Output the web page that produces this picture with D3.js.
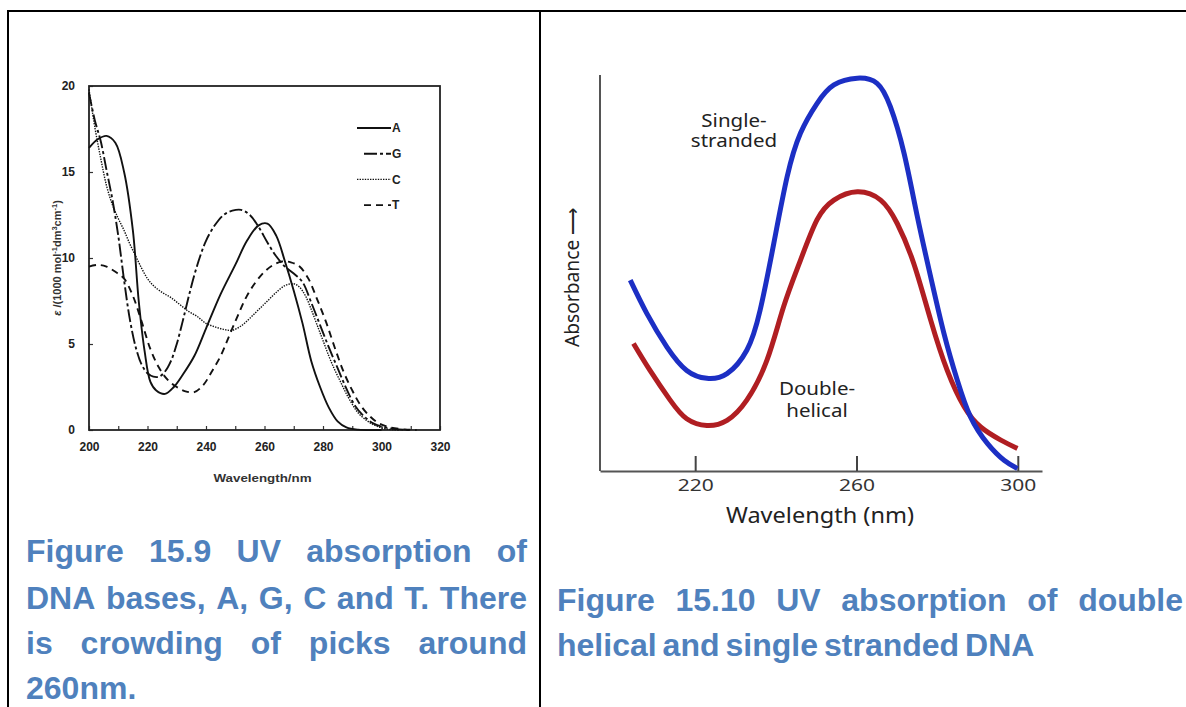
<!DOCTYPE html>
<html>
<head>
<meta charset="utf-8">
<script src="https://cdn.jsdelivr.net/npm/d3@7"></script>
<style>
  body { margin: 0; background: #fff; }
  svg { display: block; }
</style>
</head>
<body>
<script>
// ---- left figure: absorption of the four bases (epsilon vs wavelength)
const wlA  = [200,203,206,209,212,215,217,219,221,223,226,229,232,236,240,245,250,254,258,261,264,267,270,273,276,279,282,285,288,292,300];
const epsA = [16.4,16.9,17.1,16.7,15.0,11.6,7.5,4.6,2.8,2.3,2.1,2.5,3.2,4.3,5.9,7.9,9.6,11.0,11.9,12.0,11.3,9.8,8.1,6.2,4.0,2.5,1.3,0.5,0.15,0.02,0];

const wlG  = [200,202,204,206,208,210,212,214,216,218,220,222,224,226,228,230,232,234,236,238,240,243,246,249,252,255,258,261,264,267,270,273,276,279,282,285,288,291,294,297,300,305,310];
const epsG = [19.6,18.0,16.8,15.1,13.4,11.3,8.7,6.4,4.8,3.8,3.3,3.1,3.1,3.4,4.0,5.0,6.3,7.7,9.0,10.1,11.0,11.9,12.5,12.75,12.8,12.5,11.8,10.9,10.1,9.5,9.1,8.6,7.4,6.1,4.8,3.6,2.4,1.4,0.8,0.4,0.2,0.05,0];

const wlC  = [200,202,204,206,208,210,212,214,216,218,220,222,225,228,231,234,237,240,243,246,249,252,255,258,261,264,267,270,272,274,276,278,280,282,284,286,288,290,292,295,298,302,306];
const epsC = [19.8,17.6,15.8,14.2,13.1,12.3,11.6,10.8,10.1,9.4,8.8,8.4,8.0,7.7,7.3,6.9,6.6,6.2,6.0,5.85,5.8,6.05,6.5,7.0,7.5,8.0,8.4,8.5,8.3,7.8,7.0,6.1,5.2,4.3,3.5,2.8,2.1,1.5,1.0,0.55,0.25,0.05,0];

const wlT  = [200,203,206,209,212,215,218,221,224,227,230,233,236,239,242,245,248,251,254,257,260,263,266,269,272,275,278,281,284,287,290,293,296,299,303,308,312];
const epsT = [9.5,9.6,9.5,9.2,8.8,7.8,6.3,4.7,3.6,2.9,2.5,2.25,2.2,2.6,3.4,4.3,5.5,6.7,7.8,8.6,9.2,9.6,9.8,9.75,9.5,8.8,7.6,6.3,4.8,3.4,2.3,1.4,0.8,0.4,0.15,0.03,0];

const baseNames = ["A", "G", "C", "T"];
const leftXTicks = [200, 210, 220, 230, 240, 250, 260, 270, 280, 290, 300, 310, 320];
const leftYTicks = [0, 5, 10, 15, 20];

// ---- right figure: single-stranded vs double-helical (relative absorbance)
const wlSingle  = [203.9,208.0,213.0,217.9,222.9,227.9,232.8,236.1,239.5,242.8,246.1,250.2,254.4,260.2,265.1,268.4,271.8,275.1,278.4,281.7,285.0,288.3,292.5,296.6,299.9];
const absSingle = [0.482,0.398,0.313,0.254,0.234,0.246,0.305,0.406,0.575,0.743,0.853,0.928,0.975,0.992,0.979,0.920,0.802,0.642,0.490,0.347,0.229,0.136,0.069,0.027,0.006];

const wlDouble  = [204.7,208.8,213.8,217.9,222.9,227.9,232.8,237.8,241.9,246.1,250.2,254.4,260.2,266.0,270.1,274.2,278.4,282.5,286.7,290.8,295.8,299.9];
const absDouble = [0.322,0.254,0.179,0.132,0.115,0.128,0.179,0.280,0.414,0.532,0.634,0.684,0.705,0.684,0.625,0.524,0.381,0.254,0.162,0.111,0.078,0.057];

const rightXTicks = [220, 260, 300];

// ---- captions
const captionLeft = [
  "Figure 15.9 UV absorption of",
  "DNA bases, A, G, C and T. There",
  "is crowding of picks around",
  "260nm."
];
const captionRight = [
  "Figure 15.10 UV absorption of double",
  "helical and single stranded DNA"
];

const width = 1186;
const height = 707;

const svg = d3.select("body").append("svg")
  .attr("width", width)
  .attr("height", height);

// table borders
svg.append("path")
  .attr("d", `M8,707 V11 H1186 M540,11 V707`)
  .attr("fill", "none")
  .attr("stroke", "#000")
  .attr("stroke-width", 2);

// ================= left chart =================
const xL = d3.scaleLinear().domain([200, 320]).range([89, 440]);
const yL = d3.scaleLinear().domain([0, 20]).range([430, 86]);

const left = svg.append("g")
  .attr("font-family", "'Liberation Sans', Arial, sans-serif")
  .attr("font-weight", "bold");

left.append("g")
  .attr("transform", `translate(0,${yL(0)})`)
  .call(d3.axisBottom(xL).tickValues(leftXTicks).tickSize(-4).tickPadding(12)
    .tickFormat(d => d % 20 === 0 ? d : ""))
  .call(g => g.select(".domain").remove())
  .call(g => g.selectAll("line").attr("stroke", "#333").attr("stroke-width", 1.2))
  .call(g => g.selectAll("text").attr("font-size", 12).attr("fill", "#222"));

left.append("g")
  .attr("transform", `translate(${xL(200)},0)`)
  .call(d3.axisLeft(yL).tickValues(leftYTicks).tickSize(-4).tickPadding(14))
  .call(g => g.select(".domain").remove())
  .call(g => g.selectAll("line").attr("stroke", "#333").attr("stroke-width", 1.2))
  .call(g => g.selectAll("text").attr("font-size", 12).attr("fill", "#222"));

left.append("rect")
  .attr("x", xL(200)).attr("y", yL(20))
  .attr("width", xL(320) - xL(200)).attr("height", yL(0) - yL(20))
  .attr("fill", "none").attr("stroke", "#222").attr("stroke-width", 1.8);

const lineL = d3.line().x(d => xL(d[0])).y(d => yL(d[1])).curve(d3.curveCatmullRom.alpha(0.5));

const styles = {
  A: { dash: null, w: 1.9 },
  G: { dash: "13,3,3,3", w: 1.9 },
  C: { dash: "1.4,1.2", w: 1.4 },
  T: { dash: "7,5", w: 1.9 }
};
const baseSeries = {
  A: d3.zip(wlA, epsA),
  G: d3.zip(wlG, epsG),
  C: d3.zip(wlC, epsC),
  T: d3.zip(wlT, epsT)
};

left.append("g").selectAll("path")
  .data(baseNames)
  .join("path")
  .attr("d", k => lineL(baseSeries[k]))
  .attr("fill", "none")
  .attr("stroke", "#111")
  .attr("stroke-width", k => styles[k].w)
  .attr("stroke-dasharray", k => styles[k].dash);

// legend
const legend = left.append("g").selectAll("g")
  .data(baseNames)
  .join("g")
  .attr("transform", (d, i) => `translate(0,${128 + i * 25.7})`);
legend.append("line")
  .attr("x1", d => d === "A" || d === "C" ? 357 : 364).attr("x2", 391)
  .attr("stroke", "#111")
  .attr("stroke-width", d => styles[d].w)
  .attr("stroke-dasharray", d => styles[d].dash);
legend.append("text")
  .attr("x", 392).attr("dy", "0.36em")
  .attr("font-size", 12).attr("fill", "#222")
  .text(d => d);

left.append("text")
  .attr("x", (xL(200) + xL(320)) / 2 - 2).attr("y", 482)
  .attr("text-anchor", "middle")
  .attr("font-size", 11.5).attr("fill", "#333")
  .attr("textLength", 98).attr("lengthAdjust", "spacingAndGlyphs")
  .text("Wavelength/nm");

const yLab = left.append("text")
  .attr("transform", `translate(61,${(yL(0) + yL(20)) / 2}) rotate(-90)`)
  .attr("text-anchor", "middle")
  .attr("font-size", 11).attr("fill", "#333");
yLab.append("tspan").attr("font-style", "italic").text("ε");
yLab.append("tspan").text(" /(1000 mol");
yLab.append("tspan").attr("dy", -4).attr("font-size", 7.5).text("-1");
yLab.append("tspan").attr("dy", 4).text("dm");
yLab.append("tspan").attr("dy", -4).attr("font-size", 7.5).text("3");
yLab.append("tspan").attr("dy", 4).text("cm");
yLab.append("tspan").attr("dy", -4).attr("font-size", 7.5).text("-1");
yLab.append("tspan").attr("dy", 4).text(")");

// ================= right chart =================
const xR = d3.scaleLinear().domain([196.4, 306]).range([600, 1042]);
const yR = d3.scaleLinear().domain([0, 1]).range([471, 75]);

const right = svg.append("g").attr("font-family", "'Noto Sans', 'Open Sans', sans-serif");

right.append("g")
  .attr("transform", `translate(0,${yR(0)})`)
  .call(d3.axisBottom(xR).tickValues(rightXTicks).tickSizeInner(-15).tickSizeOuter(0).tickPadding(9))
  .call(g => g.select(".domain").attr("stroke", "#555").attr("stroke-width", 2))
  .call(g => g.selectAll(".tick line").attr("stroke", "#444").attr("stroke-width", 2))
  .call(g => g.selectAll("text")
    .attr("font-size", 16).attr("fill", "#333")
    .attr("font-family", "'Noto Sans', sans-serif")
    .attr("textLength", 36).attr("lengthAdjust", "spacingAndGlyphs"));

right.append("line")
  .attr("x1", xR.range()[0]).attr("x2", xR.range()[0])
  .attr("y1", yR(0)).attr("y2", yR(1))
  .attr("stroke", "#555").attr("stroke-width", 2);

const lineR = d3.line().x(d => xR(d[0])).y(d => yR(d[1])).curve(d3.curveNatural);

right.append("path")
  .attr("d", lineR(d3.zip(wlDouble, absDouble)))
  .attr("fill", "none").attr("stroke", "#b01e22").attr("stroke-width", 5);
right.append("path")
  .attr("d", lineR(d3.zip(wlSingle, absSingle)))
  .attr("fill", "none").attr("stroke", "#1c2fc4").attr("stroke-width", 5);

right.append("text")
  .attr("x", 820).attr("y", 523)
  .attr("text-anchor", "middle")
  .attr("font-size", 22).attr("fill", "#222")
  .attr("textLength", 188).attr("lengthAdjust", "spacingAndGlyphs")
  .text("Wavelength (nm)");

// two-line curve labels, slightly widened like the reference lettering
function twoLine(l1, l2, cx, y1, y2) {
  const t = right.append("text")
    .attr("transform", `translate(${cx},0) scale(1.08,1)`)
    .attr("text-anchor", "middle")
    .attr("font-size", 19).attr("fill", "#222");
  t.append("tspan").attr("x", 0).attr("y", y1).text(l1);
  t.append("tspan").attr("x", 0).attr("y", y2).text(l2);
}
twoLine("Single-", "stranded", 734, 127, 147);
twoLine("Double-", "helical", 817, 395, 417);

right.append("text")
  .attr("transform", `translate(579,277) rotate(-90)`)
  .attr("text-anchor", "middle")
  .attr("font-size", 20).attr("fill", "#222")
  .attr("textLength", 140).attr("lengthAdjust", "spacingAndGlyphs")
  .text("Absorbance ⟶");

// ================= captions =================
const cap = svg.append("g")
  .attr("font-family", "'Liberation Sans', sans-serif")
  .attr("font-weight", "bold")
  .attr("font-size", 32)
  .attr("fill", "#4f81bd");

const minGap = 6;
function prepLine(lineText, x0, x1, y, justify) {
  const words = lineText.split(" ");
  const ts = words.map(w => cap.append("text").attr("y", y).text(w));
  const ws = ts.map(t => t.node().getComputedTextLength());
  return { ts, ws, x0, x1, justify };
}
const lines = [];
const leftBase = [562, 609, 654, 699];
captionLeft.forEach((s, i) => lines.push(prepLine(s, 26, 527, leftBase[i], i < captionLeft.length - 1)));
const rightBase = [611, 656];
captionRight.forEach((s, i) => lines.push(prepLine(s, 557, 1183, rightBase[i], i < captionRight.length - 1)));

// one narrowing factor for all captions so the tightest line fits
const squeeze = d3.min(lines.filter(l => l.justify),
  l => (l.x1 - l.x0 - minGap * (l.ws.length - 1)) / d3.sum(l.ws));
const k = Math.min(1, squeeze);

lines.forEach(l => {
  const ws = l.ws.map(w => w * k);
  const gap = l.justify && ws.length > 1 ? (l.x1 - l.x0 - d3.sum(ws)) / (ws.length - 1) : minGap;
  let x = l.x0;
  l.ts.forEach((t, i) => {
    t.attr("x", x).attr("textLength", ws[i]).attr("lengthAdjust", "spacingAndGlyphs");
    x += ws[i] + gap;
  });
});
</script>
</body>
</html>
